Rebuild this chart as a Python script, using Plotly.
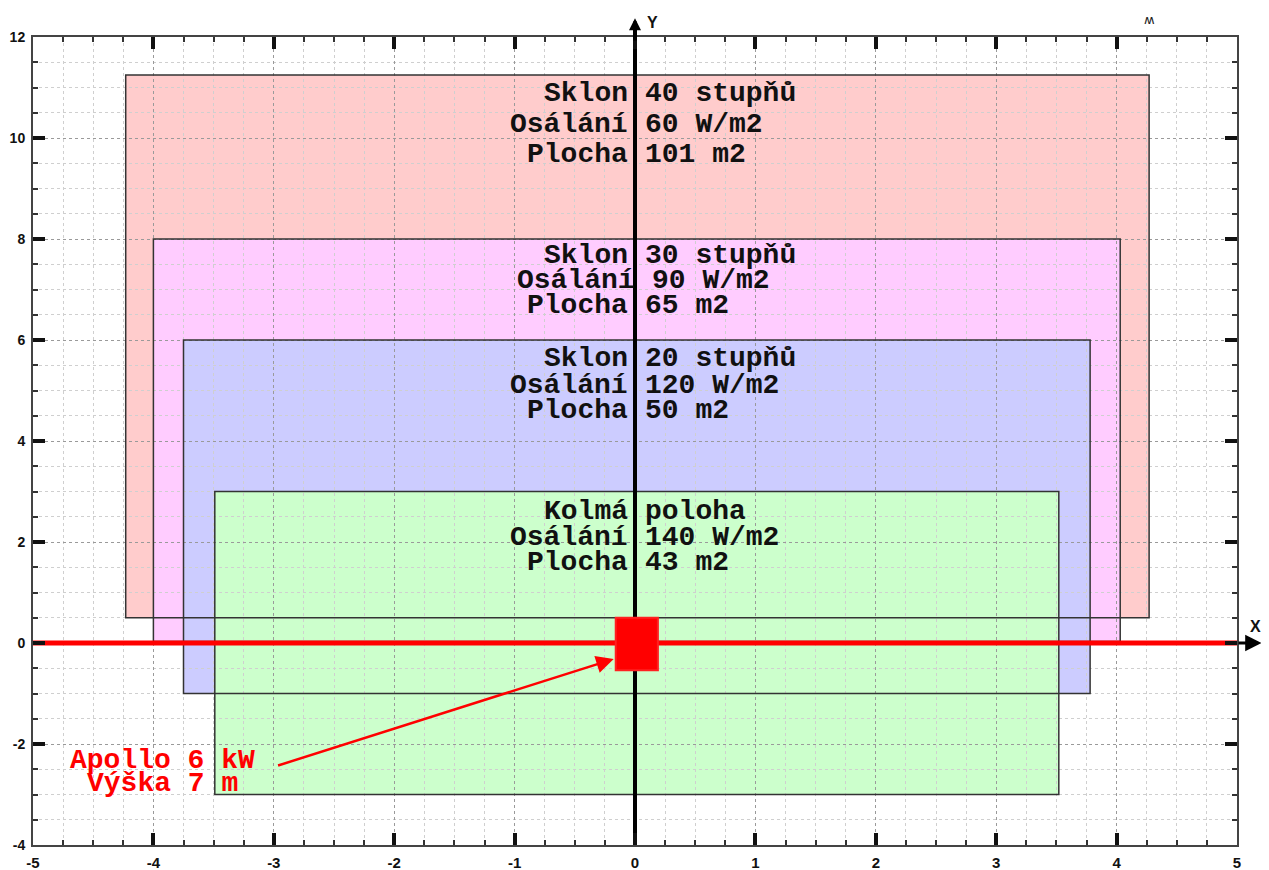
import plotly.graph_objects as go

# ---------------- data ----------------
rect_x0 = [-4.23, -4.00, -3.75, -3.49]
rect_x1 = [4.27, 4.03, 3.78, 3.52]
rect_y0 = [0.50, 0.03, -1.00, -3.00]
rect_y1 = [11.25, 8.00, 6.00, 3.00]

label_left = [
    ["Sklon", "Osálání", "Plocha"],
    ["Sklon", "Osálání", "Plocha"],
    ["Sklon", "Osálání", "Plocha"],
    ["Kolmá", "Osálání", "Plocha"],
]
label_right = [
    ["40 stupňů", "60 W/m2", "101 m2"],
    ["30 stupňů", "90 W/m2", "65 m2"],
    ["20 stupňů", "120 W/m2", "50 m2"],
    ["poloha", "140 W/m2", "43 m2"],
]

apollo_x = [-0.16, 0.19]
apollo_y = [-0.54, 0.50]
apollo_text = ["Apollo 6 kW", "Výška 7 m"]

x_range = [-5, 5]
y_range = [-4, 12]
x_tick_vals = [-5, -4, -3, -2, -1, 0, 1, 2, 3, 4, 5]
x_tick_text = ["-5", "-4", "-3", "-2", "-1", "0", "1", "2", "3", "4", "5"]
y_tick_vals = [-4, -2, 0, 2, 4, 6, 8, 10, 12]
y_tick_text = ["-4", "-2", "0", "2", "4", "6", "8", "10", "12"]

# ---------------- layout helpers (positions / styles) ----------------
fill_colors = ["#FFCCCC", "#FFCCFF", "#CCCCFF", "#CCFFCC"]
label_y = [
    [10.887, 10.273, 9.669],
    [7.680, 7.185, 6.690],
    [5.631, 5.107, 4.602],
    [2.603, 2.098, 1.603],
]
label_shift = [[0, 0, 0], [0, 7, 0], [0, 0, 0], [0, 0, 0]]
apollo_label_pos = (-3.923, [-2.326, -2.791])
arrow_tail = (-2.977, -2.435)
arrow_tip = (-0.177, -0.317)

mono = "Liberation Mono, Courier New, monospace"
sans = "Liberation Sans, Arial, sans-serif"
txt_size = 28

fig = go.Figure()

shapes = []
# fills (below grid)
for i in range(len(rect_x0)):
    shapes.append(dict(type="rect", xref="x", yref="y",
                       x0=rect_x0[i], x1=rect_x1[i], y0=rect_y0[i], y1=rect_y1[i],
                       fillcolor=fill_colors[i], line=dict(width=0), layer="below"))
# borders (above fills and grid)
for i in range(len(rect_x0)):
    shapes.append(dict(type="rect", xref="x", yref="y",
                       x0=rect_x0[i], x1=rect_x1[i], y0=rect_y0[i], y1=rect_y1[i],
                       fillcolor="rgba(0,0,0,0)", line=dict(color="#333333", width=1.5),
                       layer="between"))
# Apollo unit
shapes.append(dict(type="rect", xref="x", yref="y",
                   x0=apollo_x[0], x1=apollo_x[1], y0=apollo_y[0], y1=apollo_y[1],
                   fillcolor="#FF0000", line=dict(color="#FF2020", width=2), layer="above"))

# axis lines through origin
fig.add_trace(go.Scatter(x=[0, 0], y=y_range, mode="lines",
                         line=dict(color="black", width=4), hoverinfo="skip", showlegend=False))
fig.add_trace(go.Scatter(x=x_range, y=[0, 0], mode="lines",
                         line=dict(color="#FF0000", width=5), hoverinfo="skip", showlegend=False))

annotations = []
for b in range(len(label_left)):
    for j in range(3):
        annotations.append(dict(x=0, y=label_y[b][j], xref="x", yref="y",
                                text=label_left[b][j], showarrow=False,
                                xanchor="right", yanchor="middle",
                                xshift=-5 + label_shift[b][j],
                                font=dict(family=mono, size=txt_size, color="#111111", weight="bold")))
        annotations.append(dict(x=0, y=label_y[b][j], xref="x", yref="y",
                                text=label_right[b][j], showarrow=False,
                                xanchor="left", yanchor="middle",
                                xshift=8 + label_shift[b][j],
                                font=dict(family=mono, size=txt_size, color="#111111", weight="bold")))

for k, t in enumerate(apollo_text):
    annotations.append(dict(x=apollo_label_pos[0], y=apollo_label_pos[1][k], xref="x", yref="y",
                            text=t, showarrow=False, xanchor="center", yanchor="middle",
                            font=dict(family=mono, size=txt_size, color="#FF0000", weight="bold")))

# arrow from label to unit
annotations.append(dict(x=arrow_tip[0], y=arrow_tip[1], ax=arrow_tail[0], ay=arrow_tail[1],
                        xref="x", yref="y", axref="x", ayref="y", text="",
                        showarrow=True, arrowhead=2, arrowsize=1.4, arrowwidth=2.5,
                        arrowcolor="#FF0000"))
# axis arrowheads
annotations.append(dict(x=0, y=12.37, ax=0, ay=11.9, xref="x", yref="y", axref="x", ayref="y",
                        text="", showarrow=True, arrowhead=2, arrowsize=0.6, arrowwidth=4,
                        arrowcolor="black"))
annotations.append(dict(x=5.205, y=0, ax=5.0, ay=0, xref="x", yref="y", axref="x", ayref="y",
                        text="", showarrow=True, arrowhead=2, arrowsize=1.1, arrowwidth=3,
                        arrowcolor="black"))
# axis names and corner mark (paper coordinates, they sit outside the axis ranges)
annotations.append(dict(x=0.5147, y=1.018, xref="paper", yref="paper", text="Y", showarrow=False,
                        xanchor="center", yanchor="middle",
                        font=dict(family=sans, size=16, color="#111111", weight="bold")))
annotations.append(dict(x=1.015, y=0.271, xref="paper", yref="paper", text="X", showarrow=False,
                        xanchor="center", yanchor="middle",
                        font=dict(family=sans, size=16, color="#111111", weight="bold")))
annotations.append(dict(x=0.927, y=1.034, xref="paper", yref="paper", text="ʍ", showarrow=False,
                        xanchor="center", yanchor="top",
                        font=dict(family="DejaVu Sans", size=13, color="#222222")))

axis_common = dict(
    showline=True, linecolor="#444444", linewidth=2, mirror="allticks",
    ticks="inside", ticklen=12, tickwidth=4, tickcolor="#111111",
    showgrid=True, gridcolor="#9a9a9a", griddash="dot", gridwidth=1,
    zeroline=False, automargin=False, tickmode="array",
)

# page body has an 8px margin: figure sized so the plot area lands where the reference has it
fig.update_layout(
    width=1261, height=862,
    margin=dict(l=25, r=32, t=29, b=25, autoexpand=False),
    paper_bgcolor="white", plot_bgcolor="white",
    showlegend=False,
    shapes=shapes, annotations=annotations,
    xaxis=dict(range=x_range, tickvals=x_tick_vals, ticktext=x_tick_text,
               minor=dict(tickmode="linear", tick0=0, dtick=0.25, ticks="inside", ticklen=5,
                          tickwidth=1.5, tickcolor="#333333", showgrid=True,
                          gridcolor="#cfcfcf", griddash="dot", gridwidth=1),
               ticklabelstandoff=3,
               tickfont=dict(family=sans, size=15, color="#111111", weight="bold"),
               **axis_common),
    yaxis=dict(range=y_range, tickvals=y_tick_vals, ticktext=y_tick_text,
               minor=dict(tickmode="linear", tick0=0, dtick=0.5, ticks="inside", ticklen=5,
                          tickwidth=1.5, tickcolor="#333333", showgrid=True,
                          gridcolor="#cfcfcf", griddash="dot", gridwidth=1),
               ticklabelstandoff=3,
               tickfont=dict(family=sans, size=14, color="#111111", weight="bold"),
               **axis_common),
)

fig.write_html("out.html")
